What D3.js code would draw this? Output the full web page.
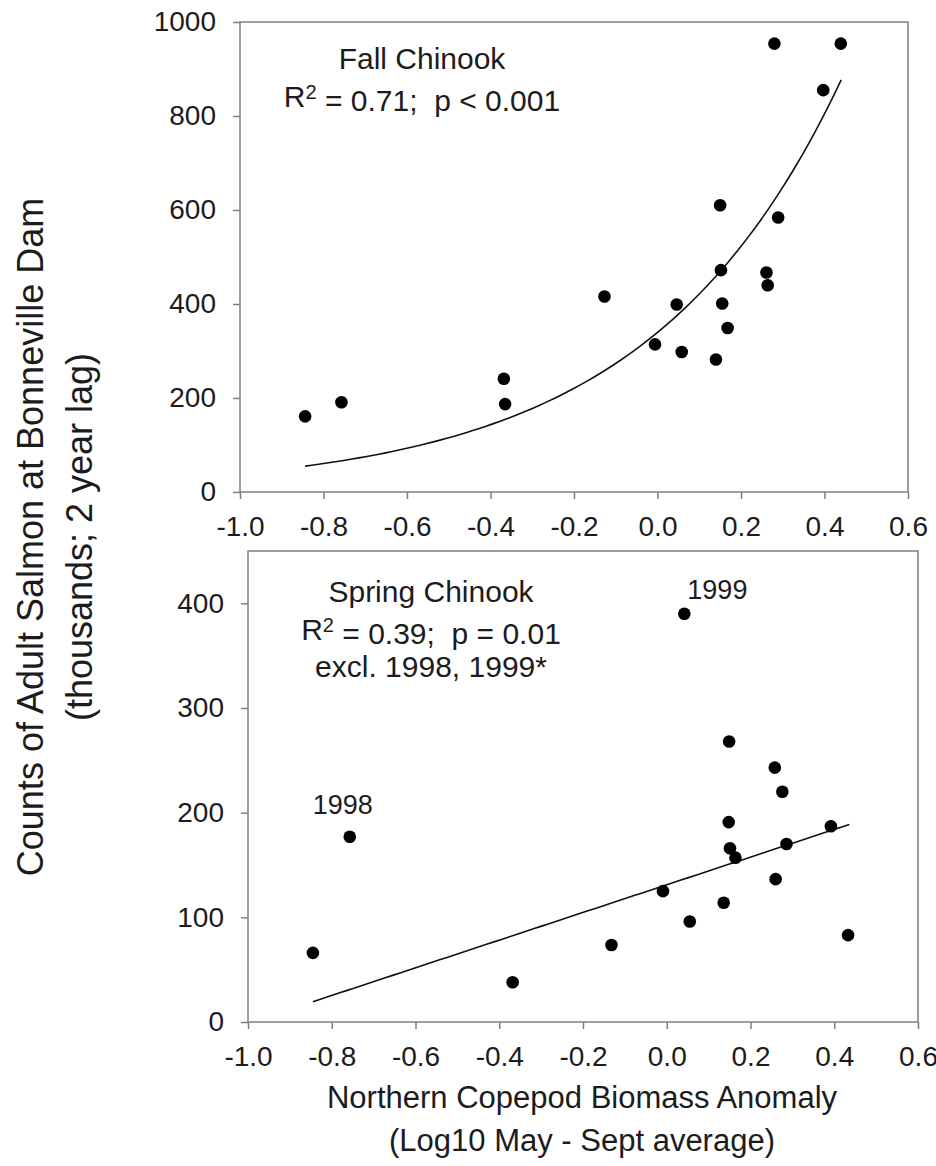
<!DOCTYPE html>
<html>
<head>
<meta charset="utf-8">
<script src="https://cdn.jsdelivr.net/npm/d3@7"></script>
<style>
  body { margin: 0; background: #fff; }
  svg { font-family: "Liberation Sans", Arial, sans-serif; }
</style>
</head>
<body>
<div id="chart"></div>
<script>
// copepod anomaly (x) and adult counts in thousands (y)
const xTicks = [-1.0, -0.8, -0.6, -0.4, -0.2, 0.0, 0.2, 0.4, 0.6];
const fallTicks = [0, 200, 400, 600, 800, 1000];
const springTicks = [0, 100, 200, 300, 400];

const fallAnomaly = [-0.844, -0.757, -0.368, -0.365, -0.127, -0.006, 0.046, 0.058, 0.140, 0.150,
                     0.152, 0.155, 0.168, 0.261, 0.264, 0.280, 0.289, 0.397, 0.439];
const fallCounts  = [161, 191, 241, 187, 416, 314, 399, 298, 282, 610,
                     472, 401, 349, 467, 440, 954, 584, 855, 954];

const springAnomaly = [-0.845, -0.757, -0.368, -0.132, -0.009, 0.042, 0.055, 0.136, 0.148, 0.149,
                       0.151, 0.164, 0.258, 0.260, 0.276, 0.286, 0.392, 0.433];
const springCounts  = [66, 177, 38, 73.5, 125, 390, 96, 114, 191, 268,
                       166, 157, 243, 136.5, 220, 170, 187, 83];

// fitted models: fall y = a*exp(b*x), spring y = a + b*x
const fallFit = [339.5, 2.157];
const fallFitRange = [-0.844, 0.44];
const springFit = [131.1, 132.2];
const springFitRange = [-0.845, 0.436];

const springYears = ["1998", "1999"];
const springYearAnomaly = [-0.757, 0.042];

const width = 936, height = 1166;
const axisGrey = "#7f7f7f";
const ink = "#1c1c1c";

const svg = d3.select("#chart").append("svg")
  .attr("width", width)
  .attr("height", height);

function drawPanel(opts) {
  const x = d3.scaleLinear().domain([-1.0, 0.6]).range([opts.left, opts.right]);
  const y = d3.scaleLinear().domain([0, opts.yMax]).range([opts.bottom, opts.top]);
  const g = svg.append("g");

  g.append("rect")
    .attr("x", opts.left)
    .attr("y", opts.top)
    .attr("width", opts.right - opts.left)
    .attr("height", opts.bottom - opts.top)
    .attr("fill", "none")
    .attr("stroke", axisGrey)
    .attr("stroke-width", 1.5);

  const yAxis = g.append("g")
    .attr("transform", `translate(${opts.left},0)`)
    .call(d3.axisLeft(y).tickValues(opts.yTicks).tickSize(7).tickPadding(17)
      .tickFormat(d => d));
  const xAxis = g.append("g")
    .attr("transform", `translate(0,${opts.bottom})`)
    .call(d3.axisBottom(x).tickValues(xTicks).tickSize(7).tickPadding(17)
      .tickFormat(d => d.toFixed(1)));

  [yAxis, xAxis].forEach(a => {
    a.select(".domain").remove();
    a.selectAll(".tick line").attr("stroke", axisGrey).attr("stroke-width", 1.5);
    a.selectAll(".tick text")
      .attr("fill", ink)
      .style("font-size", "28px")
      .style("font-family", "'Liberation Sans', Arial, sans-serif");
  });

  // fit line
  const xs = d3.range(0, 81).map(i => opts.fitRange[0] + (opts.fitRange[1] - opts.fitRange[0]) * i / 80);
  g.append("path")
    .datum(xs)
    .attr("fill", "none")
    .attr("stroke", "#111")
    .attr("stroke-width", 1.6)
    .attr("d", d3.line().x(d => x(d)).y(d => y(opts.model(d))));

  g.selectAll("circle.pt")
    .data(opts.xs.map((v, i) => ({ x: v, y: opts.ys[i] })))
    .enter()
    .append("circle")
    .attr("class", "pt")
    .attr("cx", d => x(d.x))
    .attr("cy", d => y(d.y))
    .attr("r", 6.3)
    .attr("fill", "#000");

  // annotation block
  const note = g.append("text")
    .attr("text-anchor", "middle")
    .attr("fill", ink)
    .style("font-size", "30px")
    .style("white-space", "pre");
  opts.notes.forEach((line, i) => {
    const t = note.append("tspan")
      .attr("x", opts.noteX)
      .attr("y", opts.noteY + i * opts.noteGap);
    if (line.sup) {
      t.append("tspan").text("R");
      t.append("tspan").attr("dy", "-0.4em").style("font-size", "20px").text("2");
      t.append("tspan").attr("dy", "0.4em").text(line.rest);
    } else {
      t.text(line.text);
    }
  });

  return { x, y, g };
}

const fallPanel = drawPanel({
  left: 240, right: 908, top: 22, bottom: 492, yMax: 1000, yTicks: fallTicks,
  xs: fallAnomaly, ys: fallCounts,
  fitRange: fallFitRange,
  model: v => fallFit[0] * Math.exp(fallFit[1] * v),
  noteX: 422, noteY: 69, noteGap: 38,
  notes: [{ text: "Fall Chinook" }, { sup: true, rest: " = 0.71;  p < 0.001" }]
});

const springPanel = drawPanel({
  left: 248, right: 918, top: 551, bottom: 1022, yMax: 450, yTicks: springTicks,
  xs: springAnomaly, ys: springCounts,
  fitRange: springFitRange,
  model: v => springFit[0] + springFit[1] * v,
  noteX: 431, noteY: 602, noteGap: 37.5,
  notes: [{ text: "Spring Chinook" }, { sup: true, rest: " = 0.39;  p = 0.01" }, { text: "excl. 1998, 1999*" }]
});

// year labels for the excluded spring points
const yearOffset = { "1998": [-7, -23, "middle"], "1999": [3, -15, "start"] };
springYears.forEach((yr, i) => {
  const xv = springYearAnomaly[i];
  const yv = springCounts[springAnomaly.indexOf(xv)];
  const o = yearOffset[yr];
  springPanel.g.append("text")
    .attr("x", springPanel.x(xv) + o[0])
    .attr("y", springPanel.y(yv) + o[1])
    .attr("text-anchor", o[2])
    .attr("fill", ink)
    .style("font-size", "27px")
    .text(yr);
});

// axis titles
svg.append("text")
  .attr("text-anchor", "middle")
  .attr("fill", ink)
  .style("font-size", "31px")
  .selectAll("tspan")
  .data(["Northern Copepod Biomass Anomaly", "(Log10 May - Sept average)"])
  .enter()
  .append("tspan")
  .attr("x", 582)
  .attr("y", (d, i) => 1108 + i * 43)
  .text(d => d);

svg.append("text")
  .attr("transform", "translate(0,537) rotate(-90)")
  .attr("text-anchor", "middle")
  .attr("fill", ink)
  .style("font-size", "36px")
  .selectAll("tspan")
  .data(["Counts of Adult Salmon at Bonneville Dam", "(thousands; 2 year lag)"])
  .enter()
  .append("tspan")
  .attr("x", 0)
  .attr("y", (d, i) => 43 + i * 49)
  .text(d => d);
</script>
</body>
</html>
